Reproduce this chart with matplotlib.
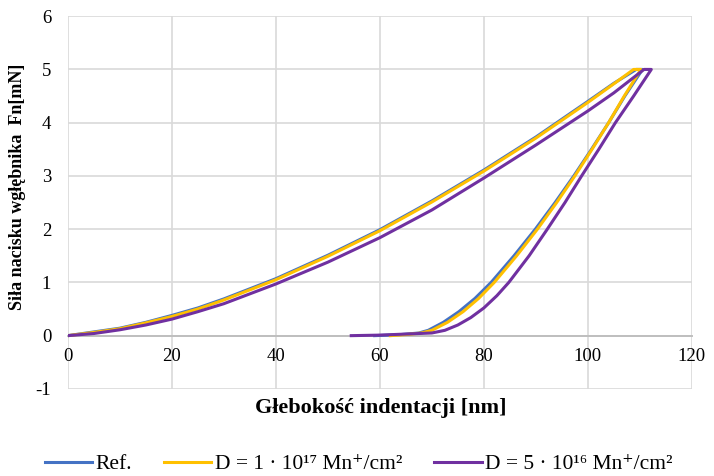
import matplotlib
matplotlib.use('Agg')
import matplotlib.pyplot as plt

plt.rcParams['font.family'] = ['Liberation Serif', 'DejaVu Serif']
plt.rcParams['axes.unicode_minus'] = False

# Ref. - loading then unloading
ref_depth = [0, 5, 10, 15, 20, 25, 30, 40, 50, 60, 70, 80, 90, 100, 105, 109.3, 110.5,
             107.1, 104, 100.7, 97.3, 93.7, 89.9, 85.8, 81.4, 78.3, 75.2, 72.2, 69.3, 67.5, 64, 59]
ref_force = [0, 0.07, 0.14, 0.25, 0.38, 0.52, 0.69, 1.07, 1.51, 1.99, 2.53, 3.11, 3.73, 4.40, 4.74, 5.0, 5.0,
             4.5, 4.0, 3.5, 3.0, 2.5, 2.0, 1.5, 1.0, 0.7, 0.45, 0.25, 0.1, 0.05, 0.02, 0.0]

# D = 1e17
d17_depth = [0, 5, 10, 15, 20, 25, 30, 40, 50, 60, 70, 80, 90, 100, 105, 108.8, 110.2,
             107, 104, 100.8, 97.5, 94, 90.3, 86.3, 82, 79, 76, 73, 70, 68, 65, 62]
d17_force = [0, 0.06, 0.13, 0.24, 0.36, 0.50, 0.67, 1.05, 1.49, 1.97, 2.51, 3.09, 3.71, 4.38, 4.73, 5.0, 5.0,
             4.5, 4.0, 3.5, 3.0, 2.5, 2.0, 1.5, 1.0, 0.7, 0.45, 0.25, 0.1, 0.05, 0.02, 0.0]

# D = 5e16
d16_depth = [0, 5, 10, 15, 20, 25, 30, 40, 50, 60, 70, 80, 90, 100, 105, 110.8, 112.2,
             108.8, 105.3, 102.1, 98.8, 95.6, 92.2, 88.7, 84.8, 82.5, 80, 77.5, 75, 72.5, 70, 65, 60, 54.5]
d16_force = [0, 0.04, 0.11, 0.20, 0.31, 0.45, 0.60, 0.97, 1.38, 1.84, 2.36, 2.96, 3.58, 4.22, 4.56, 5.0, 5.0,
             4.5, 4.0, 3.5, 3.0, 2.5, 2.0, 1.5, 1.0, 0.75, 0.52, 0.34, 0.2, 0.1, 0.05, 0.03, 0.01, 0.0]

labels = ['Ref.', 'D = 1 · 10¹⁷ Mn⁺/cm²', 'D = 5 · 10¹⁶ Mn⁺/cm²']
colors = ['#4472C4', '#FFC000', '#7030A0']

fig = plt.figure(figsize=(7.14, 4.76), dpi=100)
ax = fig.add_axes([0.095, 0.183, 0.874, 0.783])

ax.plot(ref_depth, ref_force, color=colors[0], lw=2.2, label=labels[0])
ax.plot(d17_depth, d17_force, color=colors[1], lw=2.2, label=labels[1])
ax.plot(d16_depth, d16_force, color=colors[2], lw=2.2, label=labels[2])

ax.set_xlim(0, 120)
ax.set_ylim(-1, 6)
ax.set_xticks(range(0, 121, 20))
ax.set_yticks(range(-1, 7))
ax.grid(True, color='#d9d9d9', lw=1.2)
ax.set_axisbelow(True)

for s in ['top', 'right', 'left']:
    ax.spines[s].set_visible(False)
ax.spines['bottom'].set_position(('data', 0))
ax.spines['bottom'].set_color('#bfbfbf')
ax.spines['bottom'].set_linewidth(1.4)
ax.spines['bottom'].set_zorder(1)
ax.tick_params(axis='both', length=0, labelsize=13.5)
ax.tick_params(axis='x', pad=9)
ax.tick_params(axis='y', pad=12)

fig.text(0.533, 1 - 408 / 476, 'Głebokość indentacji [nm]', ha='center', va='center',
         fontsize=16, fontweight='bold')
fig.text(0.025, 1 - 187 / 476, 'Siła nacisku wgłębnika  Fn[mN]', ha='center', va='center',
         rotation=90, fontsize=13, fontweight='bold')

fig.legend(loc='center', bbox_to_anchor=(0.502, 0.025), ncol=3, frameon=False,
           fontsize=15.5, handlelength=2.2, columnspacing=1.5, handletextpad=0.15)

fig.savefig('out.png', dpi=100)
